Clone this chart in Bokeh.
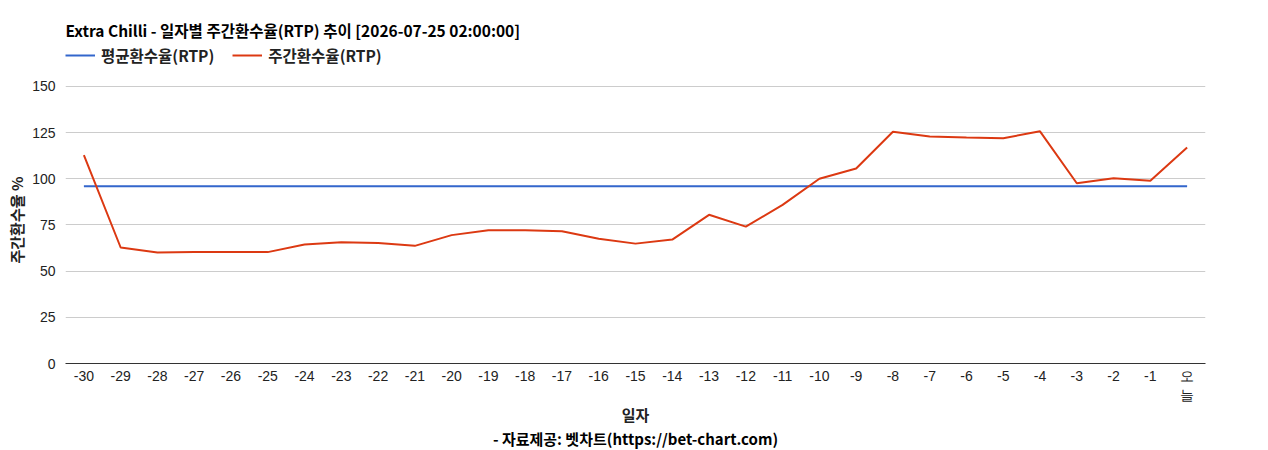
from bokeh.plotting import figure
from bokeh.models import Legend, LegendItem, Title, Range1d, FixedTicker
from bokeh.embed import file_html
from bokeh.resources import INLINE

days = [str(i) for i in range(-30, 0)] + ["오\n늘"]
rtp = [112.8, 62.8, 60.1, 60.3, 60.3, 60.3, 64.4, 65.7, 65.2, 63.7,
       69.5, 72.2, 72.2, 71.6, 67.5, 64.9, 67.1, 80.5, 74.1, 85.9,
       100.0, 105.6, 125.5, 122.9, 122.4, 122.0, 125.7, 97.6, 100.3, 99.0,
       116.9]
avg_rtp = 96.0
avg_series = [avg_rtp] * len(days)
y_ticks = [0, 25, 50, 75, 100, 125, 150]

title_text = "Extra Chilli - 일자별 주간환수율(RTP) 추이 [2026-07-25 02:00:00]"
y_title = "주간환수율 %"
x_title = "일자"
caption = "- 자료제공: 벳차트(https://bet-chart.com)"

KFONT = "Noto Sans CJK KR"
LFONT = "Liberation Sans"
KSIZE = "15px"

# frame extends above the 150 gridline to hold the legend row
p = figure(x_range=days, y_range=Range1d(0, 172.7), frame_width=1140, frame_height=319,
           output_backend="svg", toolbar_location=None,
           min_border_left=64, min_border_right=64, min_border_top=44, min_border_bottom=87)
p.outline_line_color = None

r_avg = p.line(days, avg_series, line_color="#3366cc", line_width=2)
r_rtp = p.line(days, rtp, line_color="#dc3912", line_width=2)

p.title.text = title_text
p.title.text_font = KFONT
p.title.text_font_size = "15.5px"
p.title.text_font_style = "bold"
p.title.text_color = "#000000"
p.title.standoff = 8

legend = Legend(items=[LegendItem(label="평균환수율(RTP)", renderers=[r_avg]),
                       LegendItem(label="주간환수율(RTP)", renderers=[r_rtp])],
                orientation="horizontal", location="top_left",
                label_text_font=KFONT, label_text_font_size="15.5px", label_text_font_style="bold",
                label_text_color="#222222",
                glyph_width=30, glyph_height=14, label_standoff=6, spacing=18,
                padding=0, margin=0, border_line_color=None, background_fill_alpha=0)
p.add_layout(legend, "center")

p.yaxis.ticker = FixedTicker(ticks=y_ticks)
p.yaxis.axis_line_color = None
p.yaxis.major_tick_line_color = None
p.yaxis.minor_tick_line_color = None
p.yaxis.major_tick_out = 0
p.yaxis.major_tick_in = 0
p.yaxis.major_label_standoff = 10
p.yaxis.major_label_text_font = LFONT
p.yaxis.major_label_text_font_size = "14px"
p.yaxis.major_label_text_color = "#222222"

p.add_layout(Title(text=y_title, align="left", offset=100, text_font=KFONT,
                   text_font_size=KSIZE, text_font_style="bold", text_color="#222222",
                   standoff=6), "left")

p.xaxis.axis_line_color = "#333333"
p.xaxis.major_tick_line_color = None
p.xaxis.minor_tick_line_color = None
p.xaxis.major_tick_out = 0
p.xaxis.major_tick_in = 0
p.xaxis.major_label_standoff = 4
p.xaxis.major_label_text_font = LFONT
p.xaxis.major_label_text_font_size = "14px"
p.xaxis.major_label_text_color = "#222222"
p.xaxis.axis_label = x_title
p.xaxis.axis_label_text_font = KFONT
p.xaxis.axis_label_text_font_size = KSIZE
p.xaxis.axis_label_text_font_style = "bold"
p.xaxis.axis_label_text_color = "#222222"
p.xaxis.axis_label_standoff = -2

p.add_layout(Title(text=caption, align="center", text_font=KFONT, text_font_size=KSIZE,
                   text_font_style="bold", text_color="#000000", standoff=-4), "below")

p.xgrid.grid_line_color = None
p.ygrid.grid_line_color = "#cccccc"

open("out.html", "w").write(file_html(p, INLINE))
